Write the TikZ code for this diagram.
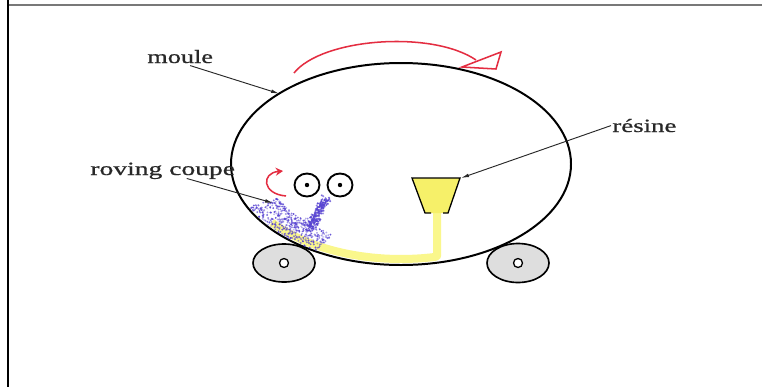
\documentclass[tikz,border=0pt]{standalone}
\usepackage{fontspec}
\setmainfont{Liberation Serif}
\newfontfamily\labelfont[FakeBold=0.6]{Liberation Serif}
\usetikzlibrary{arrows.meta,shapes.geometric,calc}

\definecolor{inkgray}{RGB}{40,40,40}
\definecolor{rotred}{RGB}{228,45,65}
\definecolor{resinyellow}{RGB}{246,240,105}
\definecolor{streamyellow}{RGB}{250,247,140}
\definecolor{fibreblue}{RGB}{88,68,210}
\definecolor{wheelgray}{RGB}{222,222,222}
\definecolor{framegray}{RGB}{120,120,120}

\tikzset{
  lbl/.style={font=\labelfont\fontsize{16}{19}\selectfont, text=inkgray, inner sep=1pt},
  pointer/.style={draw=inkgray, line width=0.8pt, -{Latex[length=2.4mm,width=1.1mm]}},
  wall/.style={draw=black, line width=1.7pt},
  wheel/.style={draw=black, line width=1.4pt, fill=wheelgray},
  hub/.style={draw=black, line width=1.1pt, fill=white, circle, minimum size=9*0.03cm, inner sep=0},
  roller/.style={draw=black, line width=1.6pt, fill=white, ellipse, minimum width=25*0.03cm, minimum height=23*0.03cm, inner sep=0},
  rotation/.style={draw=rotred, line width=1.3pt},
  powder/.style={fill=fibreblue},
}

\begin{document}
\begin{tikzpicture}[x=0.03cm, y=-0.03cm]
  \useasboundingbox (0,0) rectangle (762,387);
  \fill[white] (0,0) rectangle (762,387);

  % page frame
  \draw[framegray, line width=1.5pt] (8,5) -- (762,5);
  \draw[black, line width=1.6pt] (8,0) -- (8,387);

  % wheels under the mould
  \node[wheel, ellipse, minimum width=62*0.03cm, minimum height=38*0.03cm, inner sep=0] (wheelL) at (284,263) {};
  \node[wheel, ellipse, minimum width=62*0.03cm, minimum height=39*0.03cm, inner sep=0] (wheelR) at (518,263) {};
  \node[hub] (hubL) at (wheelL.center) {};
  \node[hub] (hubR) at (wheelR.center) {};

  % rotating mould
  \node[wall, ellipse, minimum width=340*0.03cm, minimum height=202*0.03cm, inner sep=0, outer sep=0] (mould) at (401,164) {};

  % resin stream running down from the funnel and along the wall
  \draw[streamyellow, line width=8*0.03cm, line join=round]
    (437,212) -- (437,256)
    -- plot[domain=-78:-142, samples=30] ({401+164*cos(\x)},{164-95*sin(\x)});

  % chopped roving sprayed onto the wall
  \pgfmathsetseed{42}
  \foreach \i in {1,...,380}{
    \pgfmathsetmacro{\ang}{205+35*rnd}
    \pgfmathsetmacro{\fr}{0.80+0.19*rnd}
    \pgfmathsetmacro{\op}{0.35+0.6*rnd}
    \fill[powder, opacity=\op] ({401+170*\fr*cos(\ang)},{164-101*\fr*sin(\ang)}) circle[radius=1];
  }
  \foreach \i in {1,...,200}{
    \pgfmathsetmacro{\s}{rnd}
    \pgfmathsetmacro{\op}{0.5+0.5*rnd}
    \fill[powder, opacity=\op] ({326-16*\s+9*(rnd-0.5)},{198+30*\s+7*(rnd-0.5)}) circle[radius=1.1];
  }
  \foreach \i in {1,...,70}{
    \pgfmathsetmacro{\op}{0.3+0.5*rnd}
    \fill[powder, opacity=\op] ({290+30*rnd},{218+22*rnd}) circle[radius=0.9];
  }

  % chopper rollers
  \node[roller] (rollA) at (307,185) {};
  \node[roller] (rollB) at (340,185) {};
  \fill (rollA.center) circle[radius=2.2];
  \fill (rollB.center) circle[radius=2.2];

  % resin funnel
  \coordinate (funnelTR) at (461,178);
  \fill[resinyellow] (412,178) -- (460,178) -- (448,213) -- (425,213) -- cycle;
  \draw[black, line width=1.1pt, line join=miter]
    (431,213) -- (425,213) -- (412,178) -- (460,178) -- (448,213) -- (443,213);

  % rotation arrows
  \draw[rotation] (294,73) .. controls (322,38) and (432,30) .. (476,60);
  \draw[rotation, fill=white, line join=miter] (462,67) -- (501,52) -- (496,69) -- cycle;
  \draw[rotation, -{Stealth[length=2.2mm,width=2.4mm]}]
    (286,196) .. controls (262,194) and (261,173) .. (283,171);

  % labels
  \node[lbl, anchor=base west] (moule) at (146,63) {\scalebox{1.40}[1]{moule}};
  \node[lbl, anchor=base west] (roving) at (89,175) {\scalebox{1.47}[1]{roving coupe}};
  \node[lbl, anchor=base west] (resine) at (611,132) {\scalebox{1.43}[1]{résine}};
  \coordinate (fibres) at (273,203);

  \draw[pointer] ($(moule.south)+(10,1)$) -- (mould.150);
  \draw[pointer] ($(roving.south)+(24,-2)$) -- (fibres);
  \draw[pointer] (resine.west) -- (funnelTR);
\end{tikzpicture}
\end{document}
